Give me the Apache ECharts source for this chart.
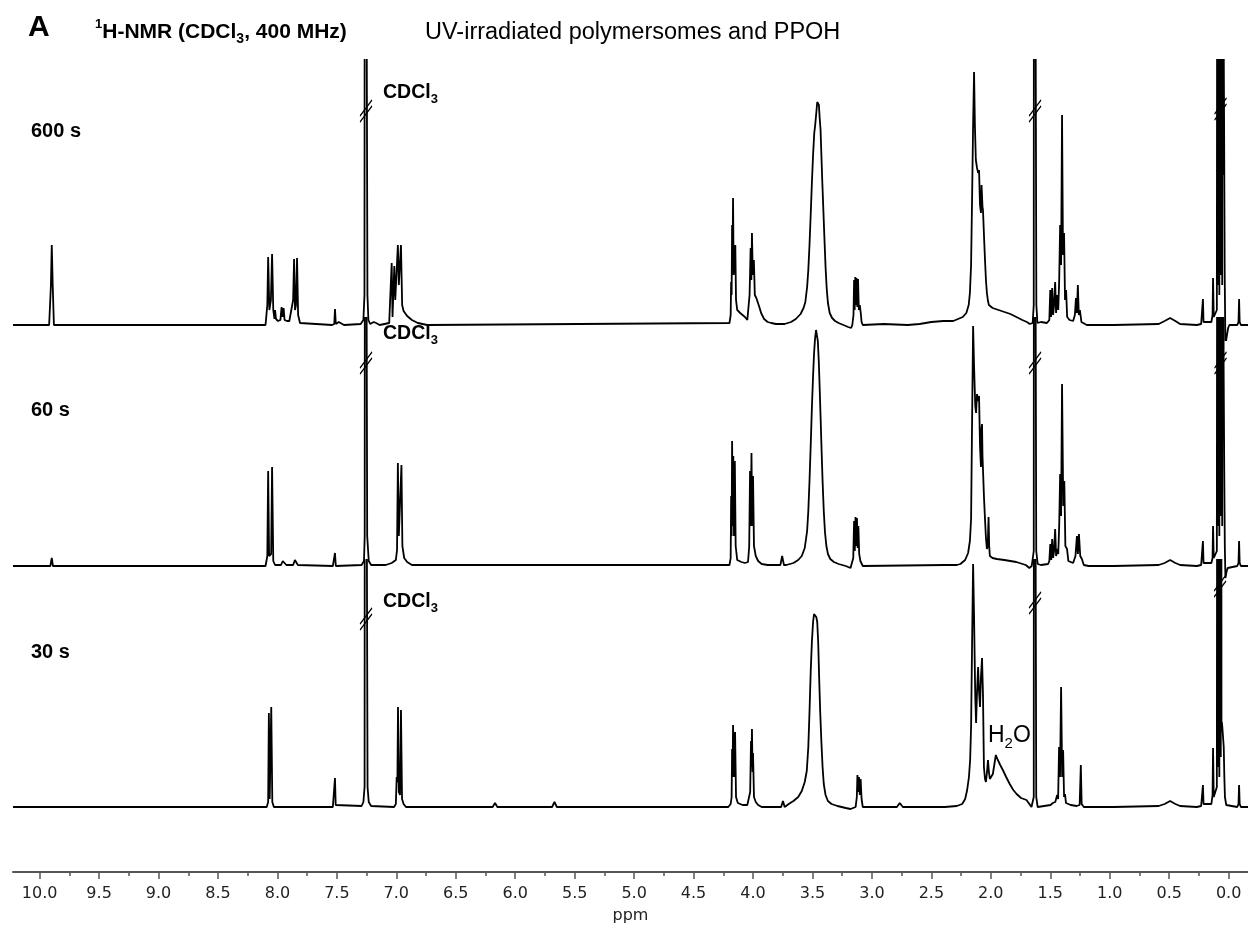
<!DOCTYPE html>
<html>
<head>
<meta charset="utf-8">
<script src="https://cdn.jsdelivr.net/npm/echarts@6/dist/echarts.min.js"></script>
<style>
  html, body { margin: 0; padding: 0; background: #fff; }
  #chart { width: 1248px; height: 927px; }
</style>
</head>
<body>
<div id="chart"></div>
<script>
// ---- tick labels (ppm) ----
const majorTicks = [10.0, 9.5, 9.0, 8.5, 8.0, 7.5, 7.0, 6.5, 6.0, 5.5, 5.0, 4.5, 4.0, 3.5, 3.0, 2.5, 2.0, 1.5, 1.0, 0.5, 0.0];
const minorTicks = [9.75, 9.25, 8.75, 8.25, 7.75, 7.25, 6.75, 6.25, 5.75, 5.25, 4.75, 4.25, 3.75, 3.25, 2.75, 2.25, 1.75, 1.25, 0.75, 0.25];

// ---- trace labels ----
const traceNames = ['600 s', '60 s', '30 s'];

// ---- spectra: [ppm, intensity] ----
const spectrum600 = [
  [10.224,0],
  [9.92,0],[9.905,40],[9.898,80],[9.89,40],[9.88,0],
  [8.10,0],[8.085,20],[8.078,68],[8.068,15],[8.055,25],[8.045,71],[8.035,15],
  [8.025,6],[8.02,15],[8.012,6],[8.005,8],[7.995,4],[7.975,5],[7.965,18],[7.958,8],[7.948,17],[7.94,5],[7.92,4],[7.9,4],
  [7.885,3],[7.868,25],[7.86,66],[7.852,15],[7.844,20],[7.835,67],[7.826,10],[7.81,2],
  [7.54,0],[7.522,1],[7.516,16],[7.509,1],[7.484,3],[7.474,2],[7.44,0],
  [7.30,1],[7.277,5],[7.268,30],[7.263,900],[7.248,900],[7.243,30],[7.235,5],[7.22,1],
  [7.19,3],[7.18,4],[7.17,2],[7.14,0],
  [7.06,2],[7.044,4],[7.039,62],[7.032,8],[7.024,10],[7.017,59],[7.009,25],[6.994,25],[6.987,80],[6.979,40],[6.969,40],[6.961,80],[6.951,20],[6.939,14],[6.909,9],[6.869,5],[6.819,2],[6.74,0],
  [4.198,2],[4.188,10],[4.184,43],[4.18,30],[4.176,100],[4.172,60],[4.168,127],[4.163,50],[4.156,60],[4.149,80],[4.143,25],[4.133,15],[4.108,12],[4.088,10],[4.068,8],[4.053,7],[4.048,5],
  [4.037,5],[4.029,30],[4.02,77],[4.014,45],[4.009,92],[4.002,50],[3.993,65],[3.985,30],[3.972,27],[3.947,18],[3.932,12],[3.907,6],[3.877,3],[3.847,2],[3.807,1],
  [3.764,1],[3.748,3],[3.734,1],
  [3.72,1],[3.68,3],[3.64,6],[3.60,11],[3.575,17],[3.56,23],[3.545,38],[3.535,55],[3.525,80],[3.515,110],[3.505,142],[3.495,170],[3.485,192],[3.477,200],[3.468,212],[3.46,223],[3.453,225],[3.446,220],[3.44,208],[3.432,195],[3.425,170],[3.418,145],[3.41,120],[3.40,88],[3.39,58],[3.38,36],[3.37,22],[3.355,12],[3.335,7],[3.31,4],[3.28,2],[3.24,0],[3.2,-2],[3.175,-3],[3.165,0],
  [3.155,10],[3.15,45],[3.145,15],[3.14,48],[3.135,20],[3.129,47],[3.123,18],[3.117,46],[3.11,15],[3.102,20],[3.094,12],[3.087,3],[3.077,0],
  [2.9,1],[2.7,0],[2.6,1],[2.5,3],[2.4,4],
  [2.386,4],[2.316,4],[2.276,6],[2.236,8],[2.206,12],[2.186,20],[2.176,32],[2.166,60],[2.157,132],[2.149,200],[2.141,253],[2.134,200],[2.126,165],[2.116,157],[2.106,152],[2.099,155],[2.091,120],[2.083,112],[2.078,140],[2.074,142],[2.07,118],[2.066,115],[2.056,85],[2.049,65],[2.041,45],[2.033,32],[2.024,24],[2.016,20],[1.985,17],[1.935,15],[1.885,13],[1.835,11],[1.785,8],[1.735,5],[1.697,3],[1.672,1],
  [1.648,2],[1.639,20],[1.636,900],[1.621,900],[1.617,20],[1.608,2],
  [1.578,3],[1.528,2],[1.508,5],[1.50,35],[1.493,8],[1.484,37],[1.476,10],[1.468,20],[1.459,43],[1.451,12],[1.442,30],[1.433,15],[1.425,45],[1.417,100],[1.409,60],[1.401,210],[1.393,70],[1.384,92],[1.376,25],[1.367,35],[1.358,8],[1.338,5],[1.308,4],[1.293,10],[1.284,27],[1.276,12],[1.268,40],[1.26,10],[1.251,15],[1.238,3],[1.193,0],
  [0.968,0],[0.588,1],[0.538,4],[0.492,7],[0.448,4],[0.408,1],[0.268,0],
  [0.231,1],[0.221,3],[0.216,26],[0.211,3],[0.198,2],
  [0.145,3],[0.135,10],[0.131,47],[0.125,8],
  [0.114,8],[0.099,15],[0.093,900],[0.090,40],[0.087,900],[0.084,60],[0.081,900],[0.078,30],[0.075,900],[0.072,80],[0.069,900],[0.066,50],[0.063,900],[0.060,70],[0.057,900],[0.054,40],[0.051,900],[0.048,150],[0.045,900],[0.042,300],[0.038,200],[0.033,50],[0.027,-20],[0.014,-10],[0.004,-3],[-0.006,0],
  [-0.073,0],[-0.083,3],[-0.088,26],[-0.093,3],[-0.103,0],[-0.163,0]
];

const spectrum60 = [
  [10.224,0],[9.91,0],[9.898,8],[9.888,0],
  [8.10,0],[8.085,10],[8.078,95],[8.07,10],[8.053,12],[8.045,99],[8.035,5],[8.02,1],
  [7.97,1],[7.955,5],[7.94,4],[7.925,1],[7.868,1],[7.853,6],[7.843,5],[7.828,1],
  [7.534,0],[7.516,13],[7.509,0],
  [7.292,1],[7.272,5],[7.266,30],[7.263,900],[7.248,900],[7.245,30],[7.232,5],[7.212,1],
  [7.089,1],[7.039,3],[7.029,4],[7.004,6],[6.994,16],[6.987,103],[6.979,30],[6.964,30],[6.957,101],[6.949,20],[6.934,8],[6.909,4],[6.869,1],
  [4.198,1],[4.188,8],[4.184,70],[4.18,30],[4.176,125],[4.171,40],[4.166,110],[4.16,30],[4.153,105],[4.146,20],[4.133,6],[4.098,4],[4.068,3],
  [4.042,4],[4.032,20],[4.025,95],[4.019,40],[4.013,113],[4.007,40],[4.0,90],[3.992,20],[3.977,10],[3.957,5],[3.927,2],[3.877,1],
  [3.77,1],[3.755,10],[3.74,1],
  [3.72,1],[3.66,3],[3.62,6],[3.59,10],[3.565,18],[3.545,35],[3.535,55],[3.525,85],[3.515,120],[3.505,158],[3.495,190],[3.487,212],[3.478,228],[3.47,236],[3.462,234],[3.455,225],[3.447,205],[3.44,180],[3.432,150],[3.424,118],[3.415,85],[3.405,55],[3.395,34],[3.383,20],[3.37,12],[3.35,7],[3.32,4],[3.28,2],[3.22,0],[3.18,-2],[3.168,0],
  [3.157,8],[3.15,45],[3.144,15],[3.138,49],[3.132,20],[3.126,48],[3.12,18],[3.114,40],[3.107,12],[3.097,5],[3.077,0],
  [2.386,1],[2.286,1],[2.256,2],[2.216,6],[2.191,13],[2.176,25],[2.166,47],[2.158,140],[2.149,240],[2.141,200],[2.131,160],[2.124,153],[2.116,172],[2.108,165],[2.099,170],[2.091,120],[2.083,99],[2.078,138],[2.074,142],[2.07,110],[2.066,97],[2.058,70],[2.049,47],[2.041,28],[2.033,17],[2.026,20],[2.019,49],[2.014,20],[2.008,10],[1.986,8],[1.949,7],[1.886,6],[1.786,4],[1.706,1],[1.676,-2],[1.656,0],
  [1.648,0],[1.639,15],[1.636,900],[1.621,900],[1.618,15],[1.606,2],
  [1.578,1],[1.518,2],[1.508,5],[1.50,22],[1.492,6],[1.484,27],[1.476,8],[1.468,15],[1.459,37],[1.451,10],[1.442,17],[1.433,12],[1.425,40],[1.417,92],[1.409,50],[1.401,182],[1.391,60],[1.382,85],[1.373,20],[1.359,17],[1.348,5],[1.308,3],[1.288,10],[1.276,30],[1.268,12],[1.259,32],[1.248,10],[1.234,7],[1.218,1],[1.178,0],
  [0.968,0],[0.588,1],[0.538,3],[0.492,6],[0.448,3],[0.408,1],[0.268,0],
  [0.231,1],[0.221,3],[0.216,25],[0.211,3],[0.198,1],
  [0.145,3],[0.135,8],[0.131,40],[0.125,8],
  [0.114,8],[0.099,15],[0.093,900],[0.090,40],[0.087,900],[0.084,60],[0.081,900],[0.078,30],[0.075,900],[0.072,80],[0.069,900],[0.066,50],[0.063,900],[0.060,70],[0.057,900],[0.054,40],[0.051,900],[0.048,150],[0.045,900],[0.042,200],[0.037,100],[0.032,20],[0.027,-12],[0.018,-6],[0.008,-2],[-0.006,0],
  [-0.073,0],[-0.083,3],[-0.088,25],[-0.093,3],[-0.103,0],[-0.163,0]
];

const spectrum30 = [
  [10.224,0],
  [8.09,0],[8.078,5],[8.072,94],[8.065,8],[8.058,10],[8.052,100],[8.043,5],[8.03,0],
  [7.534,0],[7.519,2],[7.516,29],[7.51,2],[7.494,0],
  [7.292,1],[7.277,5],[7.267,20],[7.263,900],[7.248,900],[7.242,20],[7.232,5],[7.212,1],
  [7.019,0],[7.004,3],[6.997,30],[6.991,25],[6.986,100],[6.979,15],[6.969,12],[6.961,97],[6.952,8],[6.939,3],[6.919,0],
  [6.19,0],[6.17,4],[6.15,0],[5.69,0],[5.67,5],[5.65,0],
  [4.208,0],[4.188,3],[4.18,10],[4.176,58],[4.172,30],[4.168,82],[4.16,30],[4.151,75],[4.143,10],[4.128,4],[4.088,2],[4.048,2],
  [4.032,4],[4.024,15],[4.017,66],[4.013,40],[4.009,78],[4.004,35],[4.0,54],[3.992,10],[3.977,5],[3.957,2],[3.927,0],
  [3.764,0],[3.748,6],[3.734,0],
  [3.72,0],[3.70,3],[3.66,6],[3.62,10],[3.59,16],[3.565,25],[3.548,36],[3.535,60],[3.525,95],[3.515,135],[3.505,165],[3.495,185],[3.487,193],[3.478,192],[3.468,190],[3.46,185],[3.452,165],[3.444,130],[3.435,95],[3.425,65],[3.415,40],[3.405,23],[3.39,12],[3.37,6],[3.34,3],[3.29,1],[3.22,-1],[3.18,-2],[3.165,0],
  [3.137,0],[3.127,10],[3.122,32],[3.115,15],[3.109,30],[3.102,12],[3.095,28],[3.087,8],[3.077,0],
  [2.79,0],[2.766,4],[2.74,0],
  [2.386,0],[2.286,1],[2.241,3],[2.216,8],[2.199,17],[2.184,30],[2.174,47],[2.166,80],[2.158,160],[2.149,243],[2.141,190],[2.131,110],[2.124,84],[2.116,115],[2.107,140],[2.099,115],[2.091,100],[2.083,130],[2.074,149],[2.066,113],[2.058,40],[2.049,28],[2.041,25],[2.032,35],[2.024,47],[2.016,35],[2.008,28],[1.996,30],[1.983,33],[1.971,42],[1.958,52],[1.949,50],[1.941,47],[1.921,42],[1.899,37],[1.871,30],[1.841,23],[1.811,17],[1.783,13],[1.746,9],[1.70,7],[1.676,3],[1.658,0],
  [1.648,0],[1.639,10],[1.636,900],[1.621,900],[1.618,10],[1.606,0],
  [1.498,2],[1.478,4],[1.458,5],[1.448,6],[1.442,12],[1.434,8],[1.426,60],[1.418,30],[1.409,120],[1.40,30],[1.392,57],[1.384,10],[1.376,13],[1.368,4],[1.328,2],[1.278,1],[1.253,2],[1.243,42],[1.236,3],[1.218,0],
  [0.968,0],[0.588,1],[0.538,3],[0.492,6],[0.448,3],[0.408,1],[0.268,0],
  [0.231,1],[0.221,3],[0.216,22],[0.211,3],[0.198,1],
  [0.145,3],[0.135,12],[0.131,59],[0.125,10],
  [0.114,10],[0.099,20],[0.093,900],[0.090,40],[0.087,900],[0.084,60],[0.081,900],[0.078,30],[0.075,900],[0.072,80],[0.069,900],[0.066,50],[0.063,900],[0.060,80],[0.057,85],[0.053,80],[0.049,82],[0.045,78],[0.041,60],[0.036,30],[0.031,10],[0.02,2],[0.01,0],
  [-0.073,0],[-0.083,3],[-0.088,22],[-0.093,3],[-0.103,0],[-0.163,0]
];

// ---- axis-break marks "//" on truncated lines: [ppm, intensity] ----
const breaks600 = [[7.255, 214], [1.628, 214], [0.068, 216]];
const breaks60  = [[7.255, 203], [1.628, 203], [0.068, 203]];
const breaks30  = [[7.255, 188], [1.628, 204], [0.072, 221]];

const FONT = '"Liberation Sans", Arial, sans-serif';
const chart = echarts.init(document.getElementById('chart'), null, { renderer: 'canvas' });

const xBase = { type: 'value', min: -0.163, max: 10.224, inverse: true, splitLine: { show: false } };
const breakSymbol = 'path://M0 20 L12 4 M0 26 L12 10';

function traceSeries(data, idx, breaks) {
  return {
    type: 'line', xAxisIndex: idx, yAxisIndex: idx, data: data,
    showSymbol: false, symbol: 'none', clip: true, silent: true,
    lineStyle: { color: '#000', width: 1.8 },
    markPoint: {
      symbol: breakSymbol, symbolSize: [12, 22], silent: true,
      itemStyle: { color: 'rgba(0,0,0,0)', borderColor: '#000', borderWidth: 1.2 },
      label: { show: false },
      data: breaks.map(b => ({ coord: b }))
    }
  };
}

function richLabel(text, x, y, rich) {
  return { type: 'text', x: x, y: y, silent: true, style: { text: text, rich: rich, verticalAlign: 'middle', fill: '#000' } };
}
const titleRich = {
  b: { fontSize: 21, fontWeight: 'bold', fontFamily: FONT, lineHeight: 28, verticalAlign: 'middle', fill: '#000' },
  s: { fontSize: 14, fontWeight: 'bold', fontFamily: FONT, lineHeight: 14, verticalAlign: 'bottom', fill: '#000' },
  sup: { fontSize: 13, fontWeight: 'bold', fontFamily: FONT, lineHeight: 13, verticalAlign: 'top', fill: '#000' }
};
const cdclRich = {
  b: { fontSize: 19.5, fontWeight: 'bold', fontFamily: FONT, lineHeight: 26, verticalAlign: 'middle', fill: '#000' },
  s: { fontSize: 13, fontWeight: 'bold', fontFamily: FONT, lineHeight: 13, verticalAlign: 'bottom', fill: '#000' }
};
const normRich = {
  n: { fontSize: 23, fontFamily: FONT, lineHeight: 30, verticalAlign: 'middle', fill: '#000' },
  s: { fontSize: 15, fontFamily: FONT, lineHeight: 15, verticalAlign: 'bottom', fill: '#000' }
};

const option = {
  animation: false,
  backgroundColor: '#ffffff',
  grid: [
    { left: 13, right: 0, top: 60, height: 280, outerBoundsMode: 'none' },
    { left: 13, right: 0, top: 318, height: 262, outerBoundsMode: 'none' },
    { left: 13, right: 0, top: 560, height: 312, outerBoundsMode: 'none' }
  ],
  xAxis: [
    Object.assign({}, xBase, { gridIndex: 0, show: false }),
    Object.assign({}, xBase, { gridIndex: 1, show: false }),
    Object.assign({}, xBase, {
      gridIndex: 2, position: 'bottom',
      name: 'ppm', nameLocation: 'middle', nameGap: 36,
      nameTextStyle: { fontFamily: '"DejaVu Sans", sans-serif', fontSize: 16, color: '#222' },
      axisLine: { onZero: false, lineStyle: { color: '#555', width: 2 } },
      axisTick: { customValues: majorTicks, length: 7, lineStyle: { color: '#555', width: 1.5 } },
      axisLabel: { customValues: majorTicks, margin: 14, fontFamily: '"DejaVu Sans", sans-serif', fontSize: 16, color: '#222',
                   formatter: v => v.toFixed(1) }
    }),
    Object.assign({}, xBase, {
      gridIndex: 2, position: 'bottom',
      axisLine: { show: false, onZero: false },
      axisLabel: { show: false },
      axisTick: { customValues: minorTicks, length: 4, lineStyle: { color: '#555', width: 1.5 } }
    })
  ],
  yAxis: [
    { gridIndex: 0, type: 'value', min: -15, max: 265, show: false },
    { gridIndex: 1, type: 'value', min: -14, max: 248, show: false },
    { gridIndex: 2, type: 'value', min: -65, max: 247, show: false }
  ],
  series: [
    traceSeries(spectrum600, 0, breaks600),
    traceSeries(spectrum60, 1, breaks60),
    traceSeries(spectrum30, 2, breaks30)
  ],
  graphic: [
    { type: 'text', x: 28, y: 28, silent: true, style: { text: 'A', font: 'bold 30px ' + FONT, fill: '#000', verticalAlign: 'middle' } },
    richLabel('{sup|1}{b|H-NMR (CDCl}{s|3}{b|, 400 MHz)}', 95, 32, titleRich),
    { type: 'text', x: 425, y: 33, silent: true, style: { text: 'UV-irradiated polymersomes and PPOH', font: '23.5px ' + FONT, fill: '#000', verticalAlign: 'middle' } },
    { type: 'text', x: 31, y: 131, silent: true, style: { text: traceNames[0], font: 'bold 20px ' + FONT, fill: '#000', verticalAlign: 'middle' } },
    { type: 'text', x: 31, y: 410, silent: true, style: { text: traceNames[1], font: 'bold 20px ' + FONT, fill: '#000', verticalAlign: 'middle' } },
    { type: 'text', x: 31, y: 652, silent: true, style: { text: traceNames[2], font: 'bold 20px ' + FONT, fill: '#000', verticalAlign: 'middle' } },
    richLabel('{b|CDCl}{s|3}', 383, 93, cdclRich),
    richLabel('{b|CDCl}{s|3}', 383, 334, cdclRich),
    richLabel('{b|CDCl}{s|3}', 383, 602, cdclRich),
    richLabel('{n|H}{s|2}{n|O}', 988, 736, normRich)
  ]
};
chart.setOption(option);
</script>
</body>
</html>
